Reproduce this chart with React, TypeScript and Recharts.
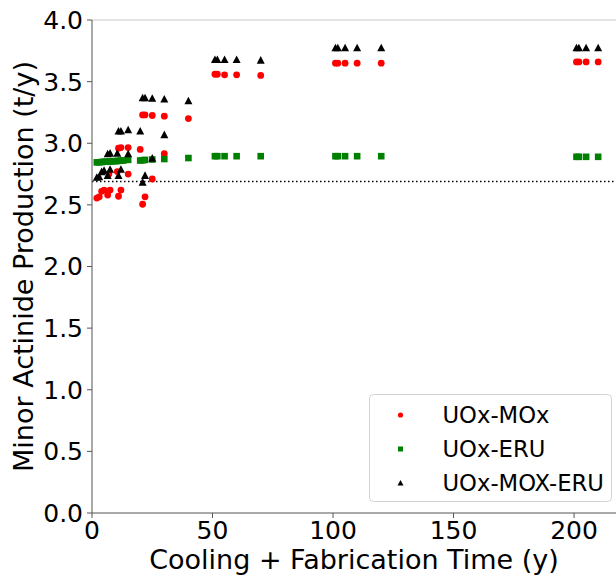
import React from 'react';
import { ScatterChart, Scatter, XAxis, YAxis, ReferenceLine, Legend, Label } from 'recharts';

const FONT = "'DejaVu Sans', sans-serif";

const seriesNames = ['UOx-MOx', 'UOx-ERU', 'UOx-MOX-ERU'];
const xTicks = [0, 50, 100, 150, 200];
const yTicks = [0, 0.5, 1, 1.5, 2, 2.5, 3, 3.5, 4];
const thresholdValue = 2.69;

const moxX = [2, 3, 4, 5, 6.5, 7.5, 11, 12, 7, 10.5, 15, 11, 12, 15, 20, 21, 22, 25, 30, 21, 22, 25, 30, 40, 51, 52, 55, 60, 70, 101, 102, 105, 110, 120, 201, 202, 205, 210];
const moxY = [2.555, 2.565, 2.61, 2.62, 2.58, 2.62, 2.57, 2.62, 2.75, 2.77, 2.75, 2.96, 2.965, 2.965, 2.95, 2.505, 2.565, 2.71, 2.915, 3.23, 3.23, 3.225, 3.22, 3.2, 3.56, 3.56, 3.555, 3.555, 3.55, 3.65, 3.65, 3.65, 3.65, 3.65, 3.66, 3.66, 3.66, 3.66];

const eruX = [2, 3, 4, 5, 6, 7, 8, 9, 10, 11, 12, 13, 15, 20, 21, 22, 25, 30, 40, 51, 52, 55, 60, 70, 101, 102, 105, 110, 120, 201, 202, 205, 210];
const eruY = [2.845, 2.845, 2.848, 2.85, 2.85, 2.852, 2.852, 2.855, 2.855, 2.857, 2.86, 2.86, 2.865, 2.86, 2.862, 2.865, 2.868, 2.872, 2.88, 2.895, 2.895, 2.895, 2.895, 2.895, 2.895, 2.895, 2.895, 2.895, 2.895, 2.89, 2.89, 2.89, 2.89];

const mxeX = [2, 3, 4, 5, 6.5, 7.5, 11, 12, 6.5, 7.5, 10.5, 15, 11, 12, 15, 20, 21, 22, 25, 30, 21, 22, 25, 30, 40, 51, 52, 55, 60, 70, 101, 102, 105, 110, 120, 201, 202, 205, 210];
const mxeY = [2.725, 2.73, 2.77, 2.78, 2.74, 2.79, 2.74, 2.79, 2.915, 2.92, 2.92, 2.915, 3.1, 3.1, 3.11, 3.1, 2.685, 2.74, 2.88, 3.07, 3.37, 3.37, 3.365, 3.36, 3.345, 3.68, 3.68, 3.68, 3.68, 3.675, 3.775, 3.775, 3.775, 3.775, 3.775, 3.775, 3.775, 3.775, 3.775];

const zip = (xs: number[], ys: number[]) => xs.map((x, i) => ({ x, y: ys[i] }));
const moxData = zip(moxX, moxY);
const eruData = zip(eruX, eruY);
const mxeData = zip(mxeX, mxeY);

const RED = '#ff0000';
const GREEN = '#008000';
const BLACK = '#000000';
const AXIS = '#555555';

function CircleShape(props: any) {
  const { cx, cy } = props;
  if (cx == null || cy == null) return null;
  return <circle cx={cx} cy={cy} r={3.4} fill={RED} />;
}
function SquareShape(props: any) {
  const { cx, cy } = props;
  if (cx == null || cy == null) return null;
  return <rect x={cx - 3.3} y={cy - 3.3} width={6.6} height={6.6} fill={GREEN} />;
}
function TriangleShape(props: any) {
  const { cx, cy } = props;
  if (cx == null || cy == null) return null;
  return <polygon points={`${cx},${cy - 4} ${cx - 4},${cy + 3.6} ${cx + 4},${cy + 3.6}`} fill={BLACK} />;
}

function LegendBox() {
  const rows = [21, 55, 89];
  const mx = 31.5;
  return (
    <svg width={243} height={108} style={{ display: 'block' }}>
      <rect x={0.5} y={0.5} width={242} height={107} rx={4} ry={4} fill="#ffffff" fillOpacity={0.8} stroke="#d3d3d3" strokeWidth={1} />
      <circle cx={mx} cy={rows[0]} r={2.6} fill={RED} />
      <rect x={mx - 2.5} y={rows[1] - 2.5} width={5} height={5} fill={GREEN} />
      <polygon points={`${mx},${rows[2] - 3} ${mx - 3},${rows[2] + 2.6} ${mx + 3},${rows[2] + 2.6}`} fill={BLACK} />
      {seriesNames.map((n, i) => (
        <text key={n} x={73.5} y={rows[i] + 8.4} fontSize={22.7} fontFamily={FONT} fill="#000">{n}</text>
      ))}
    </svg>
  );
}

export default function App() {
  return (
    <div style={{ position: 'absolute', left: 0, top: 0, width: 616, height: 579, background: '#fff' }}>
      <ScatterChart width={616} height={579} margin={{ top: 20, right: 0, bottom: 0, left: 0 }}>
        <XAxis
          type="number"
          dataKey="x"
          domain={[0, 217.4]}
          ticks={xTicks}
          allowDataOverflow
          height={66}
          tickSize={5}
          tickMargin={3}
          stroke={AXIS}
          tickLine={{ stroke: AXIS }}
          tick={{ fill: '#000', fontSize: 25, fontFamily: FONT }}
        >
          <Label
            content={(p: any) => {
              const vb = p.viewBox || {};
              return (
                <text x={vb.x + vb.width / 2} y={vb.y + 56} textAnchor="middle" fontSize={27} fontFamily={FONT} fill="#000">
                  Cooling + Fabrication Time (y)
                </text>
              );
            }}
          />
        </XAxis>
        <YAxis
          type="number"
          dataKey="y"
          domain={[0, 4]}
          ticks={yTicks}
          allowDataOverflow
          width={92}
          tickSize={5}
          tickMargin={4}
          stroke={AXIS}
          tickLine={{ stroke: AXIS }}
          tickFormatter={(v: number) => v.toFixed(1)}
          tick={{ fill: '#000', fontSize: 25, fontFamily: FONT }}
        >
          <Label
            content={(p: any) => {
              const vb = p.viewBox || {};
              return (
                <text transform={`translate(33, ${vb.y + vb.height / 2}) rotate(-90)`} x={0} y={0} textAnchor="middle" fontSize={27} fontFamily={FONT} fill="#000">
                  Minor Actinide Production (t/y)
                </text>
              );
            }}
          />
        </YAxis>
        <ReferenceLine y={4} stroke="#c8c8c8" strokeWidth={1} />
        <ReferenceLine y={thresholdValue} stroke="#000" strokeWidth={1.5} strokeDasharray="1.5 2.5" />
        <Scatter name={seriesNames[0]} data={moxData} shape={CircleShape} isAnimationActive={false} />
        <Scatter name={seriesNames[1]} data={eruData} shape={SquareShape} isAnimationActive={false} />
        <Scatter name={seriesNames[2]} data={mxeData} shape={TriangleShape} isAnimationActive={false} />
        <Legend
          layout="vertical"
          align="center"
          verticalAlign="middle"
          content={() => <LegendBox />}
          wrapperStyle={{ position: 'absolute', left: 369, top: 394, width: 243, height: 108 }}
        />
      </ScatterChart>
    </div>
  );
}
